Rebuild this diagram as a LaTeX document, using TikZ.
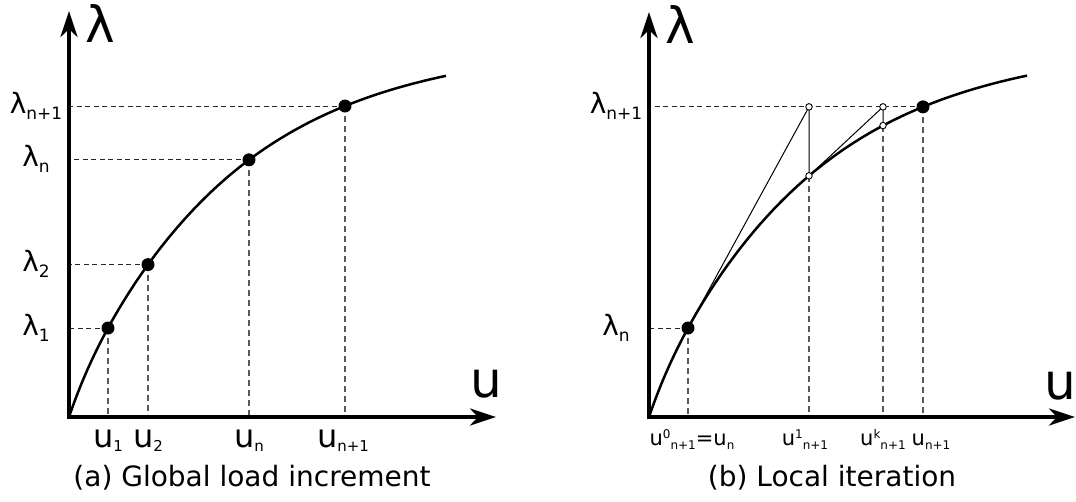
\documentclass[tikz,border=0pt]{standalone}
\usepackage{fontspec}
\setmainfont{DejaVu Sans}
\usetikzlibrary{arrows.meta,calc}
\newcommand{\lam}[1]{{\fontsize{28}{28}\selectfont λ}\raisebox{-6pt}{\fontsize{17}{17}\selectfont #1}}
\newcommand{\uu}[1]{{\fontsize{32}{32}\selectfont u}\raisebox{-4pt}{\fontsize{15}{15}\selectfont #1}}
\newcommand{\su}[2]{{\fontsize{21}{21}\selectfont u}\raisebox{7pt}{\fontsize{12}{12}\selectfont #1}\raisebox{-4pt}{\fontsize{12}{12}\selectfont #2}}
\begin{document}
\begin{tikzpicture}[x=1pt,y=-1pt,
  declare function={f(\t)=374*(1-exp(-\t/155))+0.55*\t*exp(-\t/30);},
  axis/.style={line width=3.8pt,{Stealth[length=26pt,width=17pt,inset=8pt]}-{Stealth[length=26pt,width=17pt,inset=8pt]}},
  curve/.style={line width=2.5pt},
  hdash/.style={line width=1pt,black!85,dash pattern=on 5pt off 3.5pt},
  vdash/.style={line width=1.4pt,black!65,dash pattern=on 6pt off 4pt},
  newton/.style={line width=1pt,black},
  dot/.style={circle,fill=black,inner sep=0pt,minimum size=13pt},
  odot/.style={circle,draw=black,fill=white,line width=0.9pt,inner sep=0pt,minimum size=6.5pt},
  lbl/.style={inner sep=0pt,anchor=base},
  big/.style={inner sep=0pt,font=\fontsize{50}{50}\selectfont},
  captxt/.style={inner sep=0pt,anchor=base,font=\fontsize{28}{28}\selectfont}
]
\useasboundingbox (0,0) rectangle (1076,501);
% ---------- left panel ----------
\coordinate (O1) at (69,417);
\coordinate (Y1) at (69,11);
\coordinate (X1) at (496,417);
\coordinate (l1) at ({69+39},{417-f(39)});
\coordinate (l2) at ({69+79},{417-f(79)});
\coordinate (ln) at ({69+180},{417-f(180)});
\coordinate (ln1) at ({69+276},{417-f(276)});
\foreach \p in {l1,l2,ln,ln1}{
  \draw[hdash] (\p) -- (\p -| O1);
  \draw[vdash] (\p) -- (\p |- O1);
}
\draw[curve] plot[domain=0:377,samples=150] ({69+\x},{417-f(\x)});
\draw[axis] (Y1) -- (O1) -- (X1);
\foreach \p in {l1,l2,ln,ln1}{ \node[dot] (D\p) at (\p) {}; }
\node[big] (lamA) at (100,24) {λ};
\node[big] (uA) at (486,384) {u};
\node[lbl] (tl1) at ($(l1 -| O1)+(-33,7)$) {\lam{1}};
\node[lbl] (tl2) at ($(l2 -| O1)+(-33,7)$) {\lam{2}};
\node[lbl] (tln) at ($(ln -| O1)+(-33,7)$) {\lam{n}};
\node[lbl] (tln1) at ($(ln1 -| O1)+(-33,7)$) {\lam{n+1}};
\node[lbl] (tu1) at ($(l1 |- O1)+(0,30)$) {\uu{1}};
\node[lbl] (tu2) at ($(l2 |- O1)+(0,30)$) {\uu{2}};
\node[lbl] (tun) at ($(ln |- O1)+(0,30)$) {\uu{n}};
\node[lbl] (tun1) at ($(ln1 |- O1)+(-2,30)$) {\uu{n+1}};
\node[captxt] (capA) at (252,486) {(a) Global load increment};
% ---------- right panel ----------
\coordinate (O2) at (649,417);
\coordinate (Y2) at (649,12);
\coordinate (X2) at (1075,417);
\coordinate (rn) at ({649+39},{417-f(39)});
\coordinate (r1) at ({649+160},{417-f(160)});
\coordinate (rk) at ({649+234},{417-f(234)});
\coordinate (rn1) at ({649+274},{417-f(274)});
\coordinate (a1) at (r1 |- rn1);
\coordinate (ak) at (rk |- rn1);
\draw[hdash] (rn) -- (rn -| O2);
\draw[hdash] (rn1) -- (rn1 -| O2);
\foreach \p in {rn,r1,rk,rn1}{ \draw[vdash] (\p) -- (\p |- O2); }
\draw[curve] plot[domain=0:378,samples=150] ({649+\x},{417-f(\x)});
\draw[newton] (rn) -- (a1) -- (r1) -- (ak) -- (rk);
\draw[axis] (Y2) -- (O2) -- (X2);
\node[dot] (Drn) at (rn) {};
\node[dot] (Drn1) at (rn1) {};
\foreach \p in {r1,rk,a1,ak}{ \node[odot] (D\p) at (\p) {}; }
\node[big] (lamB) at (680,25) {λ};
\node[big] (uB) at (1060,386) {u};
\node[lbl] (trn) at ($(rn -| O2)+(-33,7)$) {\lam{n}};
\node[lbl] (trn1) at ($(rn1 -| O2)+(-33,7)$) {\lam{n+1}};
\node[lbl] (tr0) at (692,445) {\su{0}{n+1}{\fontsize{21}{21}\selectfont =u}\raisebox{-4pt}{\fontsize{12}{12}\selectfont n}};
\node[lbl] (tr1) at ($(r1 |- O2)+(-4,28)$) {\su{1}{n+1}};
\node[lbl] (trk) at ($(rk |- O2)+(0,28)$) {\su{k}{n+1}};
\node[lbl] (trn1b) at ($(rn1 |- O2)+(8,28)$) {{\fontsize{21}{21}\selectfont u}\raisebox{-4pt}{\fontsize{12}{12}\selectfont n+1}};
\node[captxt] (capB) at (832,486) {(b) Local iteration};
\end{tikzpicture}
\end{document}
